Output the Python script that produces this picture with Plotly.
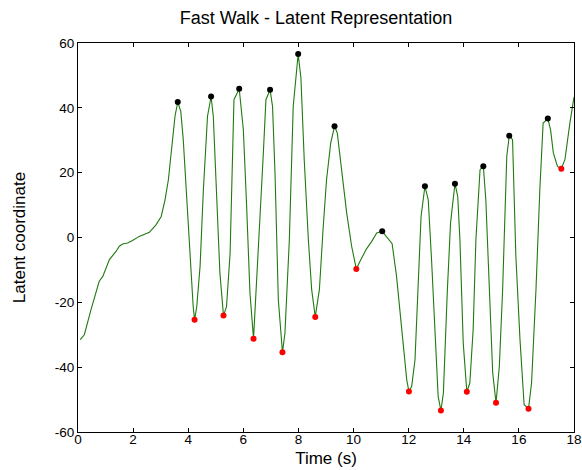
import plotly.graph_objects as go

# Latent trajectory (time in s, latent coordinate)
t = [0.08, 0.23, 0.47, 0.77, 0.9, 1.14, 1.38, 1.5, 1.62, 1.8, 1.98, 2.22, 2.59, 2.83, 3.02, 3.16, 3.28, 3.4, 3.52, 3.62,
     3.73, 3.82, 3.94, 4.06, 4.18, 4.23, 4.31, 4.43, 4.55, 4.7, 4.83,
     4.91, 5.03, 5.15, 5.28, 5.39, 5.52, 5.66, 5.85,
     6.0, 6.12, 6.24, 6.37, 6.48, 6.6, 6.72, 6.82, 6.97,
     7.06, 7.15, 7.27, 7.37, 7.42, 7.51, 7.67, 7.81, 7.99,
     8.09, 8.21, 8.36, 8.48, 8.61, 8.76, 8.9, 9.02, 9.17, 9.31,
     9.41, 9.57, 9.75, 9.93, 10.1, 10.23, 10.35, 10.47, 10.66, 10.84, 11.04,
     11.2, 11.4, 11.56, 11.68, 11.8, 11.93, 12.01, 12.11, 12.23, 12.35, 12.45, 12.59,
     12.71, 12.83, 12.95, 13.07, 13.17, 13.26, 13.4, 13.52, 13.68,
     13.78, 13.86, 13.98, 14.11, 14.22, 14.34, 14.44, 14.59, 14.71,
     14.8, 14.92, 15.05, 15.17, 15.29, 15.41, 15.56, 15.65,
     15.77, 15.89, 16.04, 16.19, 16.35, 16.46, 16.62, 16.76, 16.88, 17.05,
     17.15, 17.25, 17.4, 17.54, 17.67, 17.85, 18.0]
latent = [-31.5, -30.0, -22.3, -13.5, -12.0, -6.8, -4.3, -2.7, -2.0, -1.7, -0.9, 0.35, 1.6, 3.9, 6.5, 11.7, 17.8, 27.0, 37.4, 41.8,
          38.9, 30.2, 11.7, -5.8, -21.3, -25.4, -21.3, -8.9, 14.7, 37.4, 43.5,
          37.4, 14.7, -11.0, -24.1, -21.3, -4.8, 42.5, 45.9,
          33.3, 9.6, -17.1, -31.2, -14.0, 3.4, 25.0, 42.5, 45.6,
          40.4, 19.9, -19.2, -31.5, -35.4, -29.5, -0.7, 40.4, 56.6,
          49.2, 24.0, -0.7, -16.1, -24.5, -16.1, 3.4, 17.8, 29.1, 34.3,
          32.2, 19.9, 7.6, -2.7, -9.7, -7.4, -5.5, -3.5, -1.2, 1.4, 1.9,
          0.3, -1.9, -12.0, -22.3, -33.6, -43.9, -47.5, -45.9, -37.7, -15.1, 6.5, 15.8,
          11.7, -6.8, -30.5, -49.0, -53.4, -48.0, -17.1, 4.5, 16.6,
          12.7, -0.7, -32.5, -47.6, -44.9, -28.4, -0.7, 20.9, 22.0,
          11.7, -16.1, -41.8, -51.0, -39.8, -16.1, 25.0, 31.4,
          30.2, -5.8, -31.5, -51.6, -52.8, -44.9, -16.1, 14.7, 35.3, 36.7,
          33.2, 26.1, 21.9, 21.2, 24.0, 35.3, 43.3]

# Local maxima (black) and minima (red)
max_t = [3.62, 4.83, 5.85, 6.97, 7.99, 9.31, 11.04, 12.59, 13.68, 14.71, 15.65, 17.05]
max_v = [41.8, 43.5, 45.9, 45.6, 56.6, 34.3, 1.9, 15.8, 16.6, 22.0, 31.4, 36.7]
min_t = [4.23, 5.28, 6.37, 7.42, 8.61, 10.1, 12.01, 13.17, 14.11, 15.17, 16.35, 17.54]
min_v = [-25.4, -24.1, -31.2, -35.4, -24.5, -9.7, -47.5, -53.4, -47.6, -51.0, -52.8, 21.2]

x_ticks = [0, 2, 4, 6, 8, 10, 12, 14, 16, 18]
x_tick_text = ["0", "2", "4", "6", "8", "10", "12", "14", "16", "18"]
y_ticks = [-60, -40, -20, 0, 20, 40, 60]
y_tick_text = ["-60", "-40", "-20", "0", "20", "40", "60"]

FONT = "Liberation Sans, Arial, sans-serif"

fig = go.Figure()
fig.add_trace(go.Scatter(x=t, y=latent, mode="lines",
                         line=dict(color="#1f7a0f", width=1.1), showlegend=False, hoverinfo="skip"))
fig.add_trace(go.Scatter(x=max_t, y=max_v, mode="markers",
                         marker=dict(color="black", size=6), showlegend=False))
fig.add_trace(go.Scatter(x=min_t, y=min_v, mode="markers",
                         marker=dict(color="#ff0000", size=6), showlegend=False))

axis_common = dict(showgrid=False, zeroline=False, showline=True, linecolor="black", linewidth=1,
                   mirror="ticks", ticks="inside", ticklen=4, tickwidth=1, tickcolor="black",
                   automargin=False,
                   tickfont=dict(family=FONT, size=13.5, color="black"))

fig.update_layout(
    width=582, height=470,
    margin=dict(l=78, r=8, t=43, b=38),
    paper_bgcolor="white", plot_bgcolor="white",
    title=dict(text="Fast Walk - Latent Representation", x=316 / 582, xanchor="center",
               y=1 - 18 / 470, yanchor="middle",
               font=dict(family=FONT, size=18, color="black")),
    xaxis=dict(range=[0, 18], tickvals=x_ticks, ticktext=x_tick_text, ticklabelstandoff=-5,
               title=dict(text="Time (s)", font=dict(family=FONT, size=17, color="black"), standoff=5),
               **axis_common),
    yaxis=dict(range=[-60, 60], tickvals=y_ticks, ticktext=y_tick_text,
               title=dict(text="Latent coordinate", font=dict(family=FONT, size=17, color="black"), standoff=24),
               **axis_common),
)

fig.write_html("out.html")
